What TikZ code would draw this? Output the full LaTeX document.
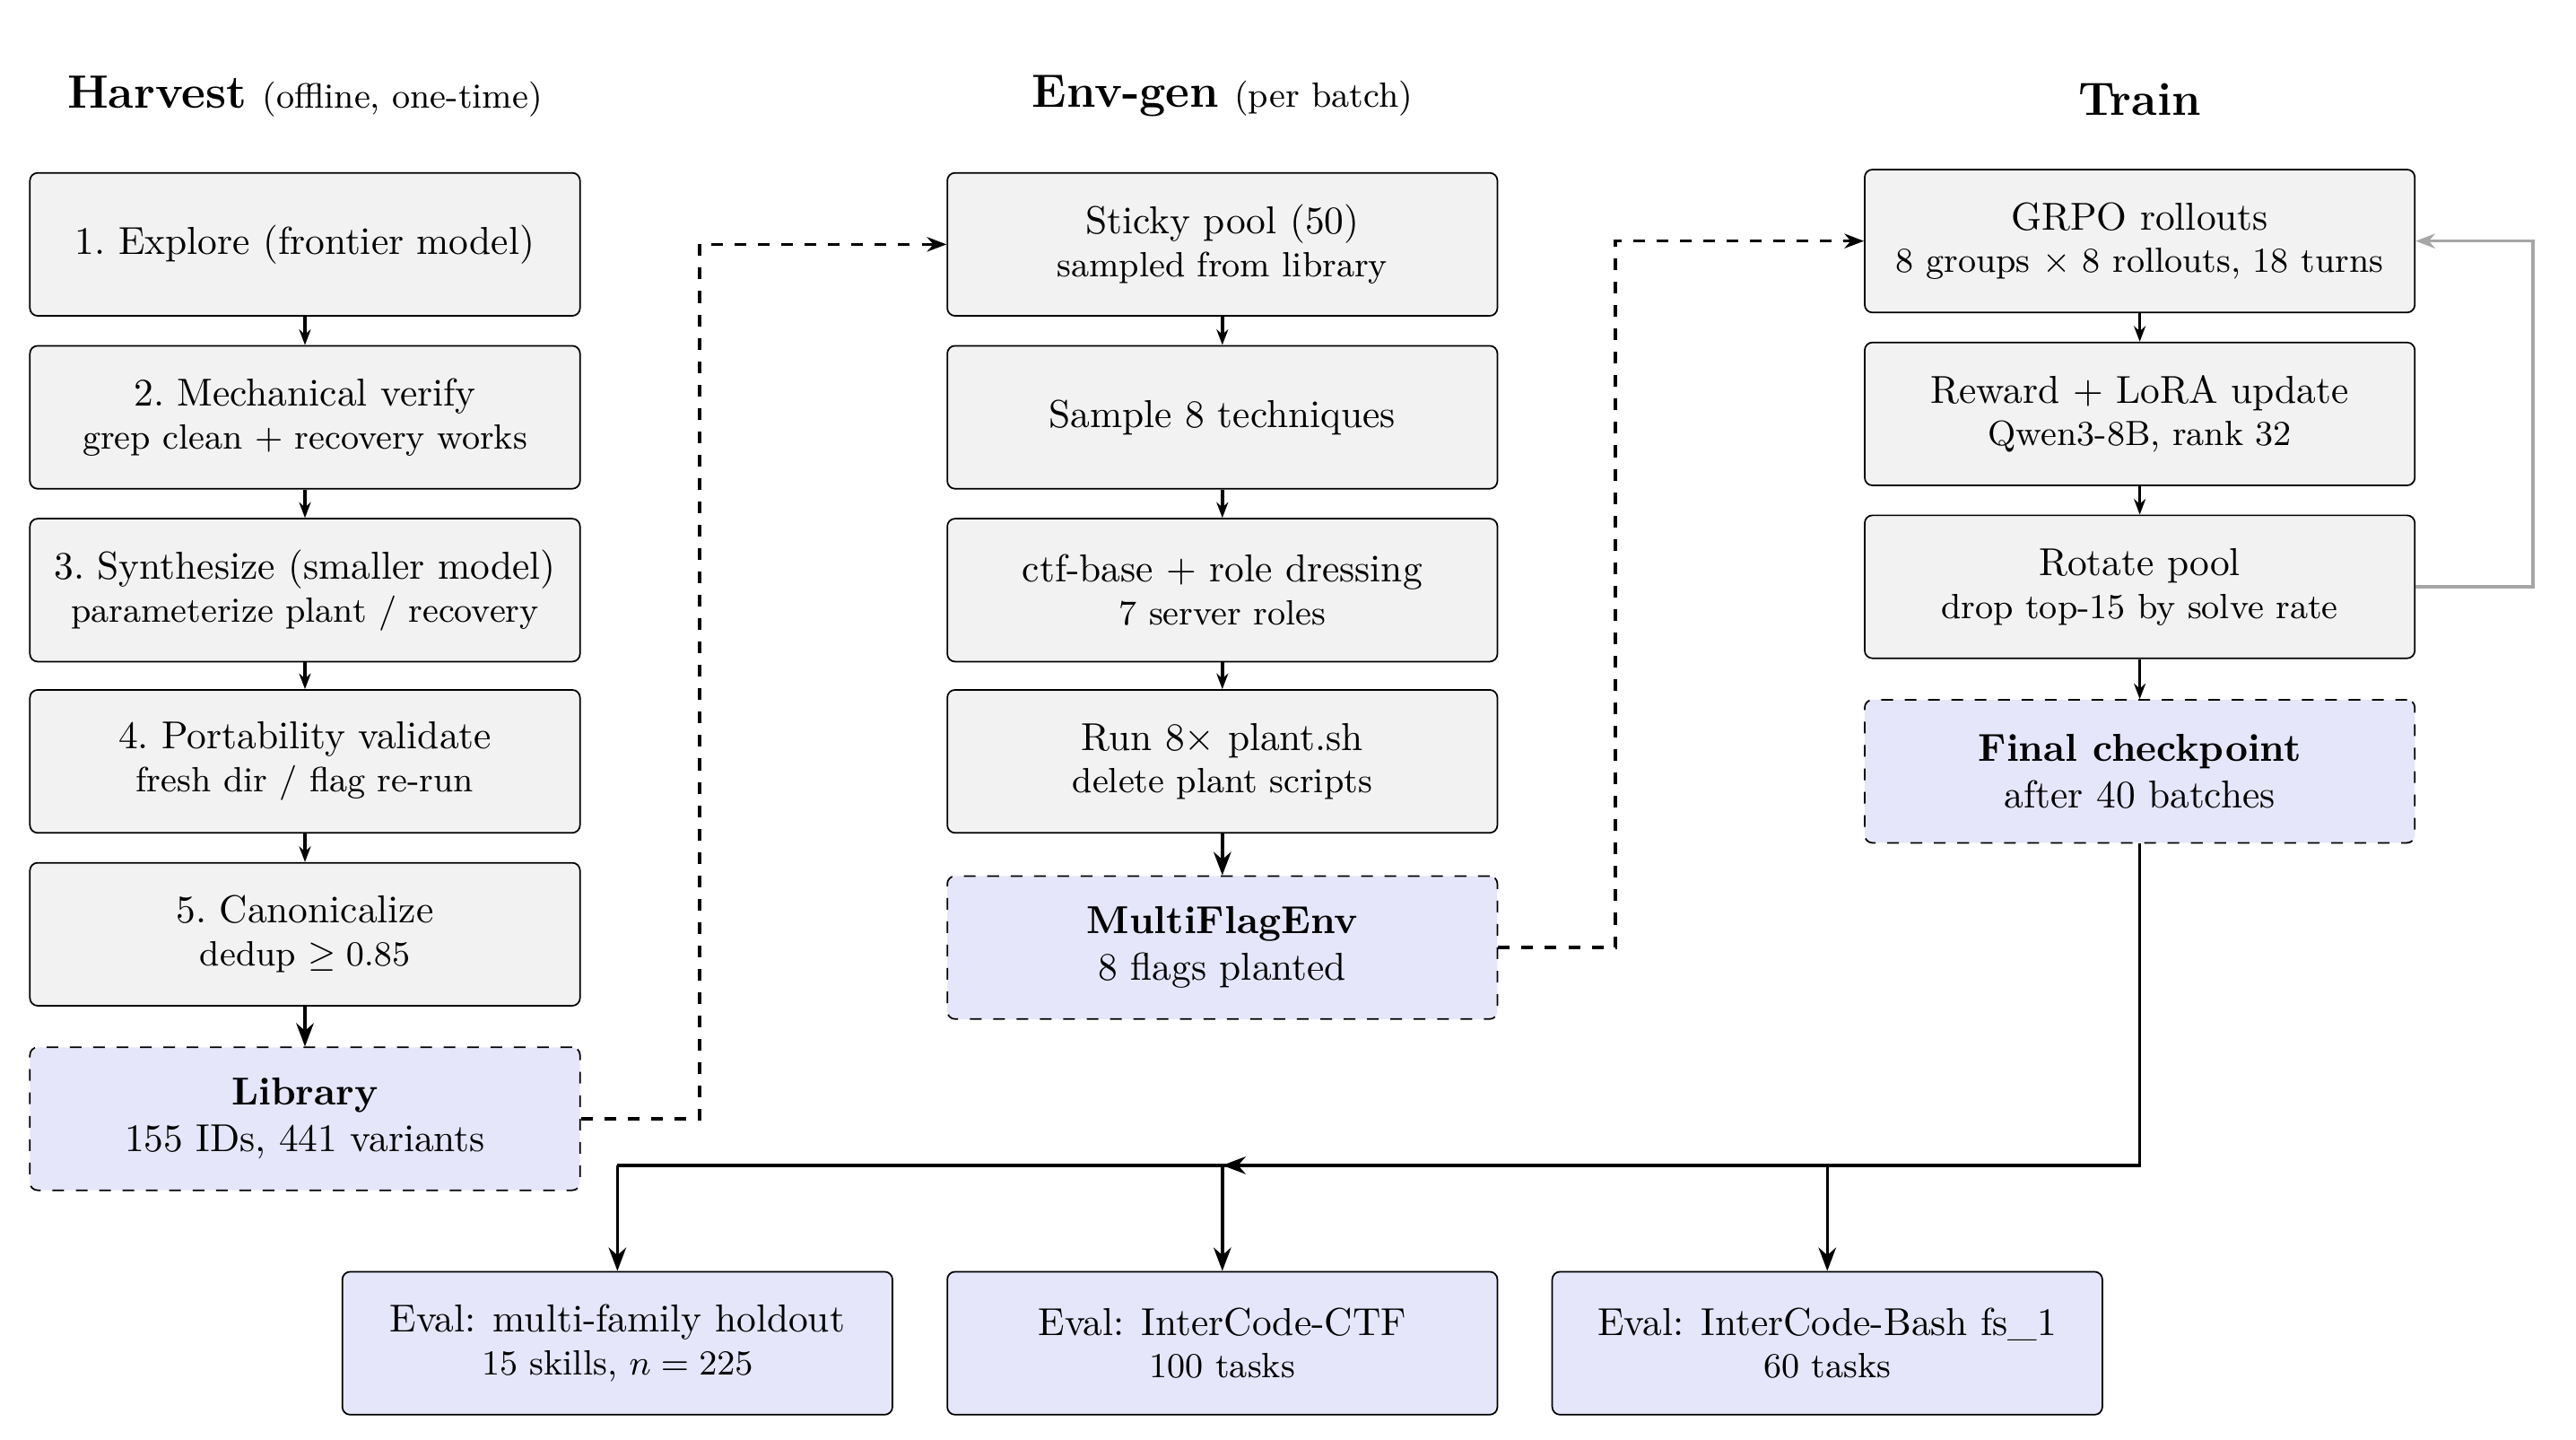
\documentclass[tikz,border=0pt]{standalone}
\usetikzlibrary{arrows.meta}
\definecolor{boxg}{HTML}{F2F2F2}
\definecolor{lav}{HTML}{E6E6FA}
\begin{document}
\begin{tikzpicture}[x=0.015cm,y=-0.015cm,
  stepbox/.style={draw, rounded corners=2pt, fill=boxg, minimum width=4.965cm, minimum height=1.29cm, align=center, font=\normalsize, inner sep=2pt},
  outbox/.style={stepbox, fill=lav, dashed},
  evalbox/.style={stepbox, fill=lav},
  sm/.style={-{Stealth[length=4pt]}, thick},
  big/.style={-{Stealth[length=6pt]}, thick},
  dsh/.style={-{Stealth[length=5pt]}, thick, dashed},
  ttl/.style={font=\large}]
\useasboundingbox (0,0) rectangle (1550,866);
\node[ttl] (t1) at (183.5,58) {\textbf{Harvest} {\small(offline, one-time)}};
\node[ttl] (t2) at (735.5,58) {\textbf{Env-gen} {\small(per batch)}};
\node[ttl] (t3) at (1287.5,60) {\textbf{Train}};
% column 1
\node[stepbox] (a1) at (183.5,147) {1.\ Explore (frontier model)};
\node[stepbox] (a2) at (183.5,251) {2.\ Mechanical verify\\[-1pt]{\small grep clean + recovery works}};
\node[stepbox] (a3) at (183.5,355) {3.\ Synthesize (smaller model)\\[-1pt]{\small parameterize plant / recovery}};
\node[stepbox] (a4) at (183.5,458) {4.\ Portability validate\\[-1pt]{\small fresh dir / flag re-run}};
\node[stepbox] (a5) at (183.5,562) {5.\ Canonicalize\\[-1pt]{\small dedup $\geq 0.85$}};
\node[outbox] (lib) at (183.5,673) {\textbf{Library}\\155 IDs, 441 variants};
% column 2
\node[stepbox] (b1) at (735.5,147) {Sticky pool (50)\\[-1pt]{\small sampled from library}};
\node[stepbox] (b2) at (735.5,251) {Sample 8 techniques};
\node[stepbox] (b3) at (735.5,355) {ctf-base + role dressing\\[-1pt]{\small 7 server roles}};
\node[stepbox] (b4) at (735.5,458) {Run 8$\times$ plant.sh\\[-1pt]{\small delete plant scripts}};
\node[outbox] (mf) at (735.5,570) {\textbf{MultiFlagEnv}\\8 flags planted};
% column 3
\node[stepbox] (c1) at (1287.5,145) {GRPO rollouts\\[-1pt]{\small 8 groups $\times$ 8 rollouts, 18 turns}};
\node[stepbox] (c2) at (1287.5,249) {Reward + LoRA update\\[-1pt]{\small Qwen3-8B, rank 32}};
\node[stepbox] (c3) at (1287.5,353) {Rotate pool\\[-1pt]{\small drop top-15 by solve rate}};
\node[outbox] (fin) at (1287.5,464) {\textbf{Final checkpoint}\\after 40 batches};
% evals
\node[evalbox] (e1) at (371.5,808) {Eval: multi-family holdout\\[-1pt]{\small 15 skills, $n=225$}};
\node[evalbox] (e2) at (735.5,808) {Eval: InterCode-CTF\\[-1pt]{\small 100 tasks}};
\node[evalbox] (e3) at (1099.5,808) {Eval: InterCode-Bash fs\_1\\[-1pt]{\small 60 tasks}};
% arrows
\foreach \p/\q in {a1/a2,a2/a3,a3/a4,a4/a5,b1/b2,b2/b3,b3/b4,c1/c2,c2/c3,c3/fin} \draw[sm] (\p) -- (\q);
\draw[big] (a5) -- (lib);
\draw[big] (b4) -- (mf);
\draw[dsh] (lib.east) -- (421,673) -- (421,147) -- (b1.west);
\draw[dsh] (mf.east) -- (972,570) -- (972,145) -- (c1.west);
\draw[-{Stealth[length=5pt]}, gray!70, thick] (c3.east) -- (1524,353) -- (1524,145) -- (c1.east);
\coordinate (j) at (735.5,701);
\draw[big] (fin.south) -- (1287.5,701) -- (j);
\draw[thick] (371.5,701) -- (1099.5,701);
\draw[big] (371.5,701) -- (e1.north);
\draw[big] (j) -- (e2.north);
\draw[big] (1099.5,701) -- (e3.north);
\end{tikzpicture}
\end{document}
